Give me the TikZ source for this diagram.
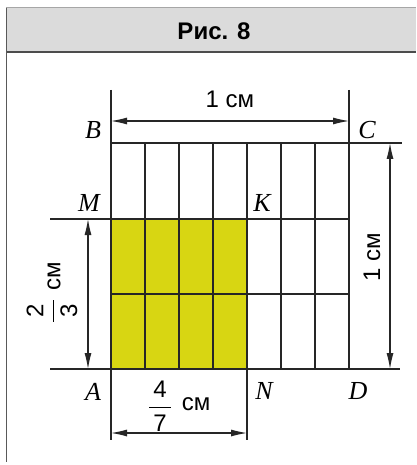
\documentclass[tikz,border=0pt]{standalone}
\usepackage{fontspec}
\usepackage{amsmath}
\setmainfont{Liberation Serif}
\setsansfont{Liberation Sans}
\usetikzlibrary{arrows.meta}
\definecolor{yel}{RGB}{216,214,18}
\newcommand{\myfrac}[2]{$\displaystyle\genfrac{}{}{1pt}{0}{\,\text{#1}\,}{\,\text{#2}\,}$}
\begin{document}
\begin{tikzpicture}[x=1pt,y=-1pt,
  gridline/.style={line width=1.1pt, draw=black!85},
  dimline/.style={line width=1.1pt, draw=black!85, {Latex[length=16pt,width=7pt]}-{Latex[length=16pt,width=7pt]}},
  ptlabel/.style={font=\fontsize{26}{26}\selectfont\itshape, inner sep=0pt},
  dimtext/.style={font=\sffamily\fontsize{24}{24}\selectfont, inner sep=0pt},
]
\useasboundingbox (0,0) rectangle (416,465);
\fill[white] (0,0) rectangle (416,465);
% header
\fill[gray!28] (6,8) rectangle (416,52);
\draw[gray!70, line width=1pt] (6,8) -- (416,8);
\draw[gray!60!black, line width=1.5pt] (6,52) -- (416,52);
\draw[gray!70!black, line width=0.8pt] (6.5,8) -- (6.5,462);
\node[font=\sffamily\bfseries\fontsize{24}{24}\selectfont] (title) at (214,31) {Рис. 8};
% key points
\coordinate (A) at (111,369);
\coordinate (B) at (111,143);
\coordinate (C) at (349,143);
\coordinate (D) at (349,369);
\coordinate (M) at (111,219);
\coordinate (K) at (247,219);
\coordinate (N) at (247,369);
% yellow part
\fill[yel] (A) rectangle (K);
% grid
\foreach \x in {145,179,213,281,315} \draw[gridline] (\x,143) -- (\x,369);
\draw[gridline] (111,90) -- (111,440);
\draw[gridline] (349,90) -- (D);
\draw[gridline] (247,143) -- (247,440);
\draw[gridline] (B) -- (402,143);
\draw[gridline] (50,219) -- (349,219);
\draw[gridline] (111,294) -- (349,294);
\draw[gridline] (50,369) -- (400,369);
\draw[line width=2pt, draw=black!85] (A) rectangle (K);
% dimension arrows
\coordinate (t1) at (111,121); \coordinate (t2) at (349,121);
\coordinate (r1) at (390,143); \coordinate (r2) at (390,369);
\coordinate (l1) at (88,219); \coordinate (l2) at (88,369);
\coordinate (b1) at (111,433); \coordinate (b2) at (247,433);
\draw[dimline] (t1) -- (t2);
\draw[dimline] (r1) -- (r2);
\draw[dimline] (l1) -- (l2);
\draw[dimline] (b1) -- (b2);
% dimension texts
\node[dimtext] (ttop) at (230,99) {1 см};
\node[dimtext, rotate=90] (tright) at (372,257) {1 см};
\node[dimtext, rotate=90] (lfrac) at (52,311) {\myfrac{2}{3}};
\node[dimtext, rotate=90] (lcm) at (54,276) {см};
\node[dimtext] (bfrac) at (160,406) {\myfrac{4}{7}};
\node[dimtext] (bcm) at (196,404) {см};
% point labels
\node[ptlabel] (lB) at (93,130) {B};
\node[ptlabel] (lC) at (367,130) {C};
\node[ptlabel] (lM) at (89,203) {M};
\node[ptlabel] (lK) at (262,203) {K};
\node[ptlabel] (lA) at (93,392) {A};
\node[ptlabel] (lN) at (264,391) {N};
\node[ptlabel] (lD) at (358,391) {D};
\end{tikzpicture}
\end{document}
